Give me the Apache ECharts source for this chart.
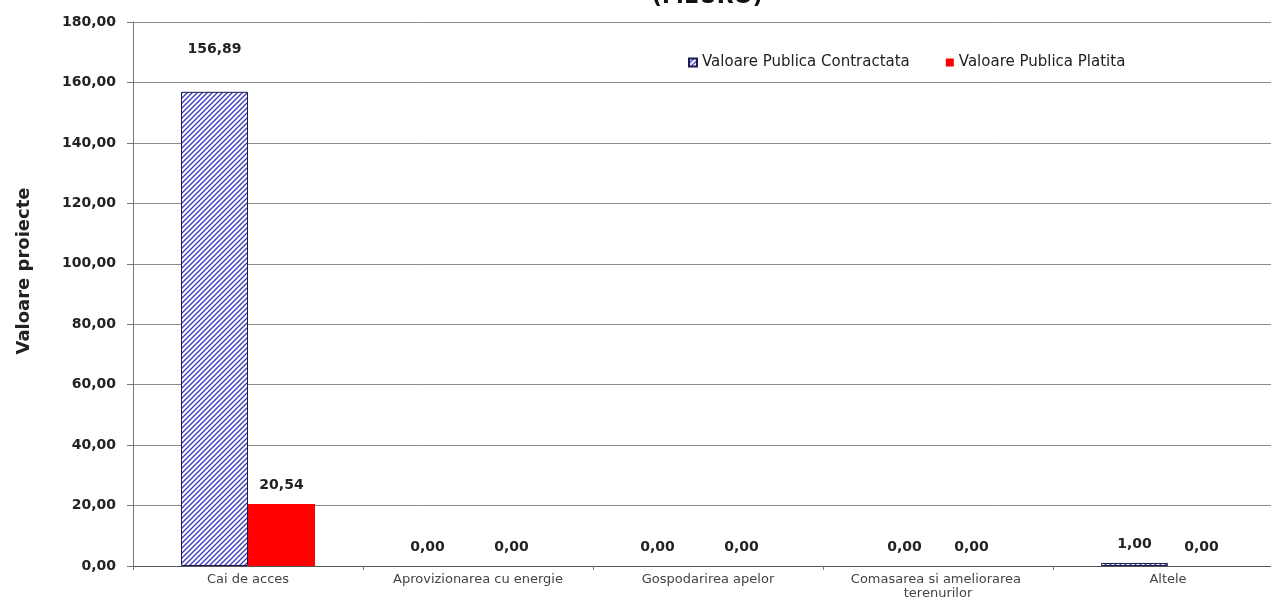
<!DOCTYPE html>
<html>
<head>
<meta charset="utf-8">
<script src="https://cdn.jsdelivr.net/npm/echarts@6/dist/echarts.min.js"></script>
<style>
html,body{margin:0;padding:0;background:#fff;overflow:hidden;width:1271px;height:605px;}
#chart{width:1283px;height:605px;}
</style>
</head>
<body>
<div id="chart"></div>
<script>
// ---- data ----
const categories = ['Cai de acces', 'Aprovizionarea cu energie', 'Gospodarirea apelor', 'Comasarea si ameliorarea terenurilor', 'Altele'];
const seriesNames = ['Valoare Publica Contractata', 'Valoare Publica Platita'];
const contracted = [156.89, 0.00, 0.00, 0.00, 1.00];
const paid = [20.54, 0.00, 0.00, 0.00, 0.00];
const yTicks = [0, 20, 40, 60, 80, 100, 120, 140, 160, 180];
const titleText = '(MEURO)';
const yAxisName = 'Valoare proiecte';

// ---- styles ----
const FONT = 'DejaVu Sans';
function hatch() {
  const s = 5;
  const c = document.createElement('canvas');
  c.width = s; c.height = s;
  const g = c.getContext('2d');
  g.fillStyle = '#ffffff';
  g.fillRect(0, 0, s, s);
  g.strokeStyle = '#3c3cc0';
  g.lineWidth = 1.4;
  g.beginPath();
  g.moveTo(-1, s + 1); g.lineTo(s + 1, -1);
  g.moveTo(-1, 1); g.lineTo(1, -1);
  g.moveTo(s - 1, s + 1); g.lineTo(s + 1, s - 1);
  g.stroke();
  return c;
}
const fmt = v => Number(v).toFixed(2).replace('.', ',');

const chart = echarts.init(document.getElementById('chart'), null, {renderer: 'canvas'});
const labelStyle = {show: true, position: 'top', distance: 12, fontFamily: FONT, fontWeight: 'bold', fontSize: 14, color: '#222', formatter: p => fmt(p.value)};

// Excel-like label placement quirks for the first series
function contractedItem(v, i) {
  const item = {value: v};
  if (v === 0) item.itemStyle = {borderWidth: 0};
  if (i === 0) item.label = {distance: 35};
  if (i === 1 || i === 2) item.label = {offset: [-17, 0]};
  return item;
}

chart.setOption({
  animation: false,
  backgroundColor: '#fff',
  title: {
    text: titleText, left: 647, top: -19,
    textStyle: {fontFamily: FONT, fontWeight: 'bold', fontSize: 22, color: '#111'}
  },
  legend: {
    left: 683, top: 50, itemWidth: 8, itemHeight: 8, itemGap: 36, icon: 'rect',
    textStyle: {fontFamily: FONT, fontSize: 15, color: '#222'},
    data: seriesNames
  },
  grid: {left: 133, right: 0, top: 22, bottom: 39, containLabel: false},
  xAxis: {
    type: 'category', data: categories,
    axisLine: {lineStyle: {color: '#555', width: 1}},
    axisTick: {show: true, length: 4, lineStyle: {color: '#777'}},
    axisLabel: {fontFamily: FONT, fontSize: 13, color: '#444', margin: 7, interval: 0, width: 185, overflow: 'break', lineHeight: 14}
  },
  yAxis: {
    type: 'value', min: 0, max: 180, interval: 20,
    name: yAxisName, nameLocation: 'middle', nameGap: 100, nameRotate: 90,
    nameTextStyle: {fontFamily: FONT, fontWeight: 'bold', fontSize: 18, color: '#222', padding: [0, 0, 0, 46]},
    axisLine: {show: true, lineStyle: {color: '#777', width: 1}},
    axisTick: {show: true, length: 6, lineStyle: {color: '#777'}},
    axisLabel: {fontFamily: FONT, fontWeight: 'bold', fontSize: 14, color: '#222', margin: 17,
      formatter: v => yTicks.includes(v) ? fmt(v) : ''},
    splitLine: {show: true, lineStyle: {color: '#8a8a8a', width: 1}}
  },
  series: [
    {
      name: seriesNames[0], type: 'bar', barWidth: 67, barGap: '0%',
      itemStyle: {color: {image: hatch(), repeat: 'repeat'}, borderColor: '#1c1c50', borderWidth: 1},
      label: labelStyle,
      data: contracted.map(contractedItem)
    },
    {
      name: seriesNames[1], type: 'bar', barWidth: 67, barGap: '0%',
      itemStyle: {color: '#ff0000'},
      label: labelStyle,
      data: paid
    }
  ]
});
</script>
</body>
</html>
